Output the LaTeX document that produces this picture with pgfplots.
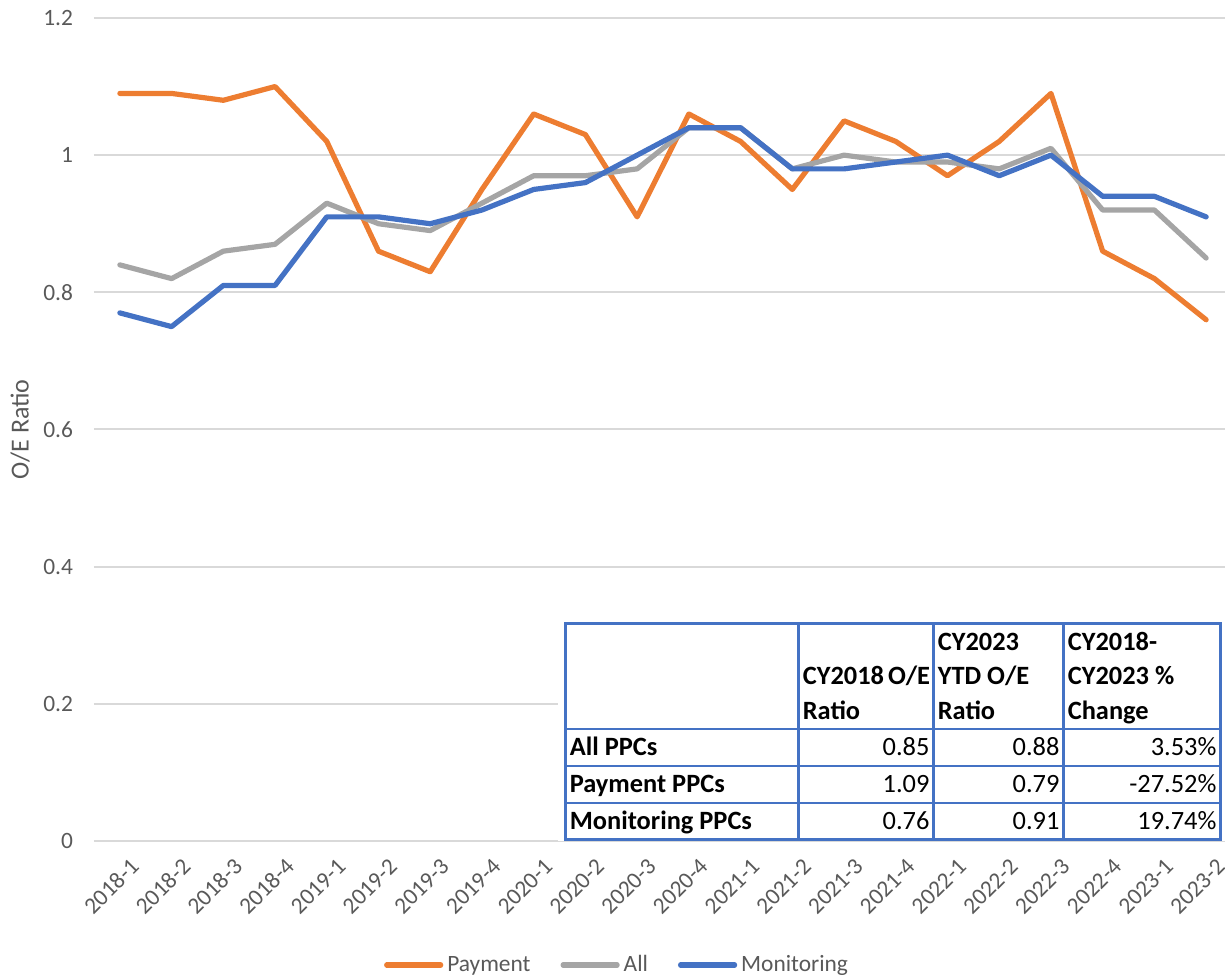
\documentclass[border=0pt]{standalone}
\usepackage{fontspec}
\setmainfont{Carlito}
\usepackage[table]{xcolor}
\usepackage{array}
\usepackage{pgfplots}
\usepackage{pgfplotstable}
\pgfplotsset{compat=1.18}

\definecolor{payorange}{HTML}{ED7D31}
\definecolor{allgray}{HTML}{A5A5A5}
\definecolor{monblue}{HTML}{4472C4}
\definecolor{tickgray}{HTML}{595959}
\definecolor{gridgray}{HTML}{D9D9D9}

% quarterly O/E ratios
\pgfplotstableread{
x  pay   all   mon
0  1.09  0.84  0.77
1  1.09  0.82  0.75
2  1.08  0.86  0.81
3  1.10  0.87  0.81
4  1.02  0.93  0.91
5  0.86  0.90  0.91
6  0.83  0.89  0.90
7  0.95  0.93  0.92
8  1.06  0.97  0.95
9  1.03  0.97  0.96
10 0.91  0.98  1.00
11 1.06  1.04  1.04
12 1.02  1.04  1.04
13 0.95  0.98  0.98
14 1.05  1.00  0.98
15 1.02  0.99  0.99
16 0.97  0.99  1.00
17 1.02  0.98  0.97
18 1.09  1.01  1.00
19 0.86  0.92  0.94
20 0.82  0.92  0.94
21 0.76  0.85  0.91
}\oedata

\newcommand\rs{\rule[-4.4pt]{0pt}{17.2pt}}
\newcommand\tkfont{\fontsize{11.7}{14}\selectfont}

\begin{document}
\begin{tikzpicture}
\begin{axis}[
  name=ax,
  scale only axis,
  width=569pt, height=411.5pt,
  xmin=-0.5, xmax=21.5,
  ymin=0, ymax=1.2,
  ytick={0,0.2,...,1.2},
  xtick=data,
  xticklabels={2018-1,2018-2,2018-3,2018-4,2019-1,2019-2,2019-3,2019-4,2020-1,2020-2,2020-3,2020-4,2021-1,2021-2,2021-3,2021-4,2022-1,2022-2,2022-3,2022-4,2023-1,2023-2},
  axis line style={draw=none},
  tick style={draw=none},
  ymajorgrids,
  grid style={draw=gridgray, line width=1pt},
  /pgf/number format/assume math mode=true,
  ticklabel style={font=\tkfont, text=tickgray},
  yticklabel style={xshift=-7pt},
  xticklabel style={rotate=45, anchor=east, xshift=1pt, yshift=-13pt},
  ylabel={O/E Ratio},
  ylabel style={at={(axis description cs:-0.065,0.5)}, anchor=center, rotate=0,
    font=\fontsize{13}{15}\selectfont, text=tickgray},
  legend columns=3,
  legend style={at={(0.4605,-0.1507)}, anchor=center, draw=none,
    font=\tkfont, text=tickgray,
    /tikz/every even column/.append style={column sep=13pt}},
  legend image code/.code={\draw[#1, line cap=round] (0pt,0pt) -- (27pt,0pt);},
  every axis plot/.append style={line width=2.6pt, line join=round, line cap=round},
]
\addplot[payorange] table[x=x, y=pay] {\oedata};
\addplot[allgray] table[x=x, y=all] {\oedata};
\addplot[monblue] table[x=x, y=mon] {\oedata};
\legend{Payment, All, Monitoring}

\node[anchor=north west, fill=white, inner sep=3pt, xshift=-1.5pt, yshift=2pt]
  at (rel axis cs:0.4104,0.2686) {%
  \fontsize{13.2}{18}\selectfont
  \setlength{\arrayrulewidth}{1.2pt}\arrayrulecolor{monblue}%
  \setlength{\tabcolsep}{1.5pt}\renewcommand{\arraystretch}{0}%
  \begin{tabular}{|p{112.3pt}|p{63.3pt}|p{60.8pt}|p{74.3pt}|}
  \hline
  \rs & & \textbf{CY2023} & \textbf{CY2018-}\\
  \rs & \textbf{CY2018~O/E} & \textbf{YTD~O/E} & \textbf{CY2023~\%}\\
  \rs & \textbf{Ratio} & \textbf{Ratio} & \textbf{Change}\\
  \hline
  \rs\textbf{All PPCs} & \hfill 0.85 & \hfill 0.88 & \hfill 3.53\%\\
  \hline
  \rs\textbf{Payment PPCs} & \hfill 1.09 & \hfill 0.79 & \hfill -27.52\%\\
  \hline
  \rs\textbf{Monitoring PPCs} & \hfill 0.76 & \hfill 0.91 & \hfill 19.74\%\\
  \hline
  \end{tabular}};
\end{axis}
\pgfresetboundingbox
\path[use as bounding box] ([xshift=-47pt, yshift=-68.5pt]ax.south west) rectangle ([xshift=-3.5pt, yshift=9pt]ax.north east);
\end{tikzpicture}
\end{document}
